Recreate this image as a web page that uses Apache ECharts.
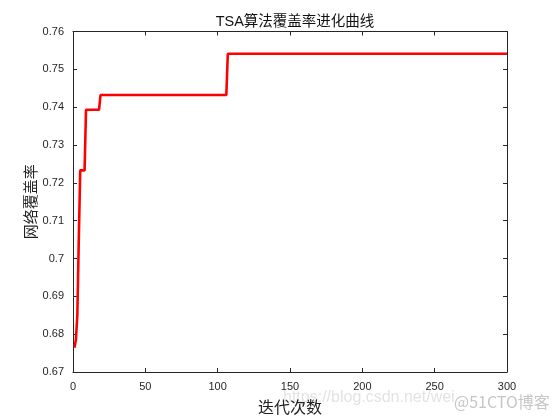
<!DOCTYPE html>
<html><head><meta charset="utf-8">
<script src="https://cdn.jsdelivr.net/npm/echarts@6/dist/echarts.min.js"></script>
<style>html,body{margin:0;padding:0;background:#fff}#c{width:560px;height:420px}</style>
</head><body><div id="c"></div>
<script>
const iterations = [1, 2, 3, 4, 5, 8, 9, 18, 19, 106, 107, 300];
const coverage = [0.6764, 0.6785, 0.685, 0.705, 0.7233, 0.7233, 0.7393, 0.7393, 0.7432, 0.7432, 0.7541, 0.7541];
const titleText = 'TSA算法覆盖率进化曲线';
const xName = '迭代次数';
const yName = '网络覆盖率';

const chart = echarts.init(document.getElementById('c'), null, {renderer: 'canvas'});
const axisCol = '#262626';
const data = iterations.map((x, i) => [x, coverage[i]]);
const gridL = 73, gridR = 53, gridT = 31.5, gridB = 46.5;
chart.setOption({
  animation: false,
  backgroundColor: '#fff',
  title: {
    text: titleText, left: 290, top: 10, textAlign: 'center',
    textStyle: {fontFamily: 'Liberation Sans, Noto Sans CJK SC', fontSize: 14.5, fontWeight: 'normal', color: '#111'}
  },
  grid: {left: gridL, right: gridR, top: gridT, bottom: gridB},
  xAxis: [{
    type: 'value', min: 0, max: 300, interval: 50, position: 'bottom',
    name: xName, nameLocation: 'middle', nameGap: 27, nameMoveOverlap: false,
    nameTextStyle: {fontFamily: 'Noto Sans CJK SC', fontSize: 16, color: '#222'},
    axisLine: {show: true, onZero: false, lineStyle: {color: axisCol, width: 1}},
    axisTick: {show: true, inside: true, length: 4, lineStyle: {color: axisCol}},
    axisLabel: {fontFamily: 'Liberation Sans', fontSize: 11, color: axisCol, margin: 9},
    splitLine: {show: false}
  }, {
    type: 'value', min: 0, max: 300, interval: 50, position: 'top',
    axisLine: {show: true, onZero: false, lineStyle: {color: axisCol, width: 1}},
    axisTick: {show: true, inside: true, length: 4, lineStyle: {color: axisCol}},
    axisLabel: {show: false}, splitLine: {show: false}
  }],
  yAxis: [{
    type: 'value', min: 0.67, max: 0.76, interval: 0.01, position: 'left',
    name: yName, nameLocation: 'middle', nameGap: 35, nameRotate: 90, nameMoveOverlap: false,
    nameTextStyle: {fontFamily: 'Noto Sans CJK SC', fontSize: 15, color: '#222'},
    axisLine: {show: true, onZero: false, lineStyle: {color: axisCol, width: 1}},
    axisTick: {show: true, inside: true, length: 4, lineStyle: {color: axisCol}},
    axisLabel: {fontFamily: 'Liberation Sans', fontSize: 11, color: axisCol, margin: 9,
      formatter: v => String(+v.toFixed(2))},
    splitLine: {show: false}
  }, {
    type: 'value', min: 0.67, max: 0.76, interval: 0.01, position: 'right',
    axisLine: {show: true, onZero: false, lineStyle: {color: axisCol, width: 1}},
    axisTick: {show: true, inside: true, length: 4, lineStyle: {color: axisCol}},
    axisLabel: {show: false}, splitLine: {show: false}
  }],
  graphic: [{
    type: 'text', left: 283, top: 390,
    style: {text: 'https://blog.csdn.net/wei', fill: 'rgba(160,160,160,0.3)', font: '16px Liberation Sans'}
  }, {
    type: 'text', left: 454, top: 394,
    style: {text: '@51CTO博客', fill: 'rgba(150,150,150,0.55)', font: '16px Noto Sans CJK SC'}
  }],
  series: [{
    type: 'line', data: data, xAxisIndex: 0, yAxisIndex: 0,
    showSymbol: false, symbol: 'none',
    lineStyle: {color: '#ff0000', width: 2.6}, z: 5
  }]
});
</script></body></html>
